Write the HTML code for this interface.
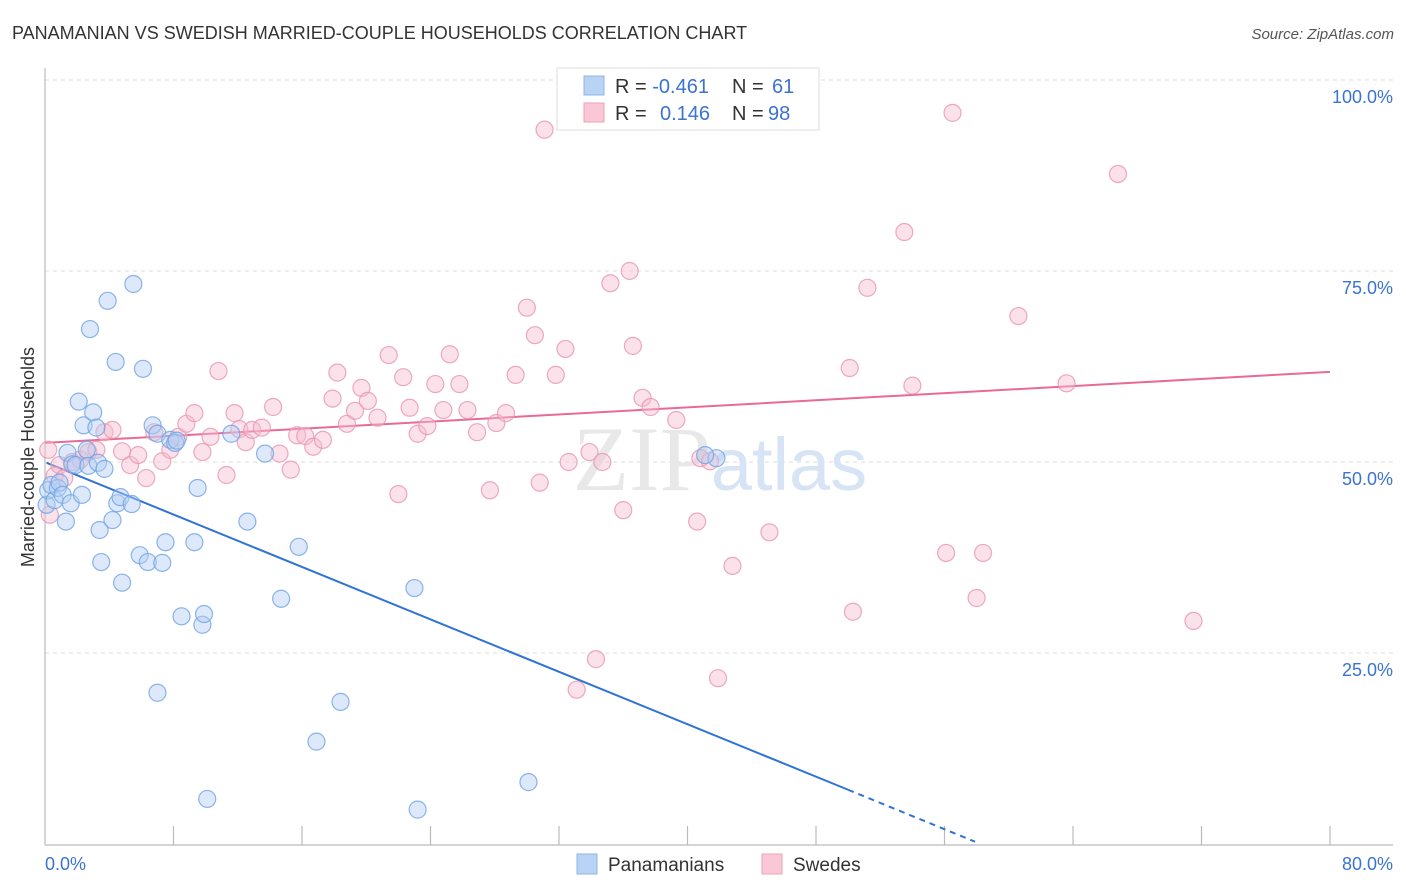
<!DOCTYPE html>
<html><head><meta charset="utf-8"><style>
body{margin:0;background:#fff;font-family:"Liberation Sans",sans-serif}
</style></head><body>
<svg id="chart" width="1406" height="892" xmlns="http://www.w3.org/2000/svg" style="display:block">
<text x="12" y="39" font-size="18" fill="#333">PANAMANIAN VS SWEDISH MARRIED-COUPLE HOUSEHOLDS CORRELATION CHART</text>
<text x="1394" y="39" font-size="15" fill="#555" font-style="italic" text-anchor="end">Source: ZipAtlas.com</text>
<g id="grid"></g>
<text x="720" y="490" font-size="92" text-anchor="middle" fill="#e8e8e8" font-family="Liberation Serif,serif">ZIP<tspan fill="#d6e4f5" font-family="Liberation Sans,sans-serif" font-size="74">atlas</tspan></text>
<g id="axes"></g>
<g id="lines"></g>
<g id="pts"></g>
<text transform="translate(34,457) rotate(-90)" font-size="18" fill="#333" text-anchor="middle">Married-couple Households</text>
<g>
<rect x="557" y="68" width="262" height="62" fill="#fff" stroke="#ddd"/>
<rect x="584" y="76" width="20" height="19" fill="#b9d3f5" stroke="#8fb5e8"/>
<rect x="584" y="103" width="20" height="19" fill="#f9c7d6" stroke="#eda2ba"/>
<text x="615" y="93" font-size="20" fill="#333">R = <tspan fill="#3b73d1">-0.461</tspan><tspan x="732">N = </tspan><tspan x="772" fill="#3b73d1">61</tspan></text>
<text x="615" y="120" font-size="20" fill="#333">R = <tspan x="660" fill="#3b73d1">0.146</tspan><tspan x="732">N = </tspan><tspan x="768" fill="#3b73d1">98</tspan></text>
</g>
<g>
<rect x="577" y="854" width="20" height="20" fill="#b9d3f5" stroke="#8fb5e8"/>
<text x="608" y="871" font-size="19" fill="#333">Panamanians</text>
<rect x="762" y="854" width="20" height="20" fill="#f9c7d6" stroke="#eda2ba"/>
<text x="793" y="871" font-size="19" fill="#333">Swedes</text>
</g>
</svg>
<script>
const xTicks=[0,8,16,24,32,40,48,56,64,72,80];
const yTicks=[25,50,75,100];
const yTickLabels=["25.0%","50.0%","75.0%","100.0%"];
const blueX=[0.1,0.2,0.4,0.6,0.8,0.9,1.1,1.3,1.6,1.4,1.7,1.9,2.1,2.3,2.4,2.6,2.7,2.8,3.0,3.2,3.3,3.4,3.5,3.7,3.9,4.2,4.4,4.5,4.7,4.8,5.4,5.5,5.9,6.1,6.4,6.7,7.0,7.0,7.3,7.5,7.8,8.1,8.2,8.5,9.3,9.5,9.8,9.9,10.1,11.6,12.6,13.7,14.7,15.8,16.9,18.4,23.0,23.2,30.1,41.8,41.1];
const blueY=[44.4,46.3,47.0,45.0,46.6,47.3,45.7,42.2,44.6,51.2,49.7,49.6,57.9,45.7,54.8,51.6,49.5,67.4,56.5,54.5,49.9,41.1,36.9,49.1,71.1,42.4,63.1,44.6,45.4,34.2,44.5,73.3,37.8,62.2,36.9,54.8,19.8,53.7,36.8,39.5,52.9,52.5,52.8,29.8,39.5,46.6,28.7,30.1,5.9,53.7,42.2,51.1,32.1,38.9,13.4,18.6,33.5,4.5,8.1,50.5,50.9];
const pinkX=[0.3,0.6,0.9,1.2,1.7,2.2,2.7,3.2,3.7,4.2,4.8,5.3,5.8,6.3,6.8,7.3,7.8,8.3,8.8,9.3,9.8,10.3,10.8,11.3,11.8,12.1,12.5,12.9,13.5,14.2,14.6,15.3,15.7,16.2,16.7,17.3,17.9,18.2,18.8,19.3,19.7,20.1,20.7,21.4,22.0,22.3,22.7,23.2,23.8,24.3,24.8,25.2,25.8,26.3,26.9,27.7,28.1,28.7,29.3,30.0,30.5,30.8,31.1,31.8,32.4,32.6,33.1,33.9,34.3,34.7,35.2,36.0,36.4,36.6,37.2,37.7,39.3,40.6,40.8,41.4,41.9,42.8,45.1,47.0,50.1,50.3,51.2,53.5,54.0,56.1,56.5,58.0,58.4,60.6,63.6,66.8,71.5,0.2];
const pinkY=[43.1,48.2,49.6,47.9,50.0,50.3,51.3,51.6,53.9,54.2,51.4,49.6,50.9,47.9,53.9,50.1,51.6,53.3,55.0,56.4,51.3,53.3,61.9,48.3,56.4,54.3,52.6,54.2,54.5,57.2,51.1,49.0,53.5,53.4,52.0,52.9,58.3,61.7,55.0,56.7,59.7,58.0,55.8,64.0,45.8,61.1,57.1,53.7,54.7,60.2,56.8,64.1,60.2,56.8,53.9,46.3,55.1,56.4,61.4,70.2,66.6,47.3,93.5,61.4,64.8,50.0,20.2,51.3,24.2,50.0,73.4,43.7,75.0,65.2,58.4,57.2,55.5,42.2,50.5,50.1,21.7,36.4,40.8,100.0,62.3,30.4,72.8,80.1,60.0,38.1,95.7,32.2,38.1,69.1,60.3,87.7,29.2,51.6];
const blueTrend=[[0.1,49.9],[50.0,7.1]];
const blueTrendDash=[[50.0,7.1],[57.9,0.3]];
const pinkTrend=[[0,52.5],[80,61.8]];
const NS="http://www.w3.org/2000/svg";
const sx=v=>45+v/80*1285, sy=v=>844-v/100*764;
function mk(tag,attrs,parent){const e=document.createElementNS(NS,tag);for(const k in attrs)e.setAttribute(k,attrs[k]);parent.appendChild(e);return e;}
const grid=document.getElementById('grid'),axes=document.getElementById('axes'),lines=document.getElementById('lines'),pts=document.getElementById('pts');
yTicks.forEach((t,i)=>{
 const g=mk('line',{x1:45,x2:1393,y1:sy(t),y2:sy(t),stroke:'#ddd','stroke-dasharray':'4,4'},grid);
 
 
 const l=mk('text',{x:1393,y:sy(t)+23,'font-size':18,fill:'#3b73d1','text-anchor':'end'},axes);
 l.textContent=yTickLabels[i];
 
 
});
mk('line',{x1:45,x2:45,y1:68,y2:845,stroke:'#bbb','stroke-width':1.2},axes);
mk('line',{x1:45,x2:1393,y1:845,y2:845,stroke:'#bbb','stroke-width':1.2},axes);
xTicks.forEach(t=>{if(t===0)return;const tk=mk('line',{x1:sx(t),x2:sx(t),y1:826,y2:845,stroke:'#bbb','stroke-width':1.2},axes);
 
 });
const x0=mk('text',{x:45,y:870,'font-size':18,fill:'#3b73d1'},axes);x0.textContent='0.0%';


const x1=mk('text',{x:1393,y:870,'font-size':18,fill:'#3b73d1','text-anchor':'end'},axes);x1.textContent='80.0%';


function dot(x,y,fill,stroke,name){const c=mk('circle',{cx:sx(x),cy:sy(y),r:8.5,fill:fill,'fill-opacity':0.45,stroke:stroke,'stroke-opacity':0.8,'stroke-width':1.2},pts);
 
 }
pinkX.forEach((x,i)=>dot(x,pinkY[i],'#f7bccf','#e995b0','swede-point'));
blueX.forEach((x,i)=>dot(x,blueY[i],'#b3cff3','#6ea2e3','panamanian-point'));
function tl(p,color,dash,name){const l=mk('line',{x1:sx(p[0][0]),y1:sy(p[0][1]),x2:sx(p[1][0]),y2:sy(p[1][1]),stroke:color,'stroke-width':2},lines);if(dash)l.setAttribute('stroke-dasharray','6,5');
 
 }
tl(pinkTrend,'#e86a96',false,'swedes-trend-line');
tl(blueTrend,'#2f72d8',false,'panamanians-trend-line');
tl(blueTrendDash,'#2f72d8',true,'panamanians-trend-extension');
</script>
</body></html>
